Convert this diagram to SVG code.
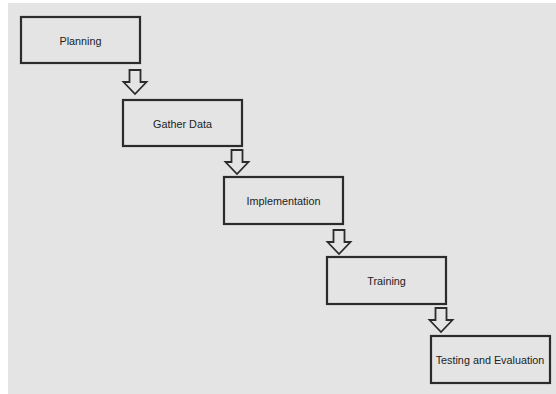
<svg xmlns="http://www.w3.org/2000/svg" width="556" height="394" viewBox="0 0 556 394">
<style>
.box{fill:#e4e4e4;stroke:#2b2b2b;stroke-width:2.2}
.lbl{font-family:"Liberation Sans",Arial,sans-serif;font-size:10.8px;fill:#222;text-anchor:middle;dominant-baseline:central}
.arr{fill:#e4e4e4;stroke:#2b2b2b;stroke-width:1.8;stroke-linejoin:miter}
</style>
<defs>
<path id="downArrow" d="M-5.5,0 H5.5 V12 H11.5 L0,24 L-11.5,12 H-5.5 Z"/>
</defs>
<rect x="0" y="0" width="556" height="394" fill="#ffffff"/>
<rect x="8" y="3" width="548" height="391" fill="#e4e4e4"/>
<g id="connectors">
<use href="#downArrow" class="arr" transform="translate(135,70)"/>
<use href="#downArrow" class="arr" transform="translate(237,150)"/>
<use href="#downArrow" class="arr" transform="translate(339,230)"/>
<use href="#downArrow" class="arr" transform="translate(441,308)"/>
</g>
<g id="planning"><rect class="box" x="21" y="17" width="119" height="46"/><text class="lbl" x="80.5" y="41">Planning</text></g>
<g id="gather-data"><rect class="box" x="123" y="100" width="119" height="46"/><text class="lbl" x="182.5" y="124">Gather Data</text></g>
<g id="implementation"><rect class="box" x="224" y="177" width="119" height="47"/><text class="lbl" x="283.5" y="201">Implementation</text></g>
<g id="training"><rect class="box" x="327" y="257" width="119" height="47"/><text class="lbl" x="386.5" y="281">Training</text></g>
<g id="testing"><rect class="box" x="431" y="336" width="119" height="47"/><text class="lbl" x="490" y="360">Testing and Evaluation</text></g>
</svg>
